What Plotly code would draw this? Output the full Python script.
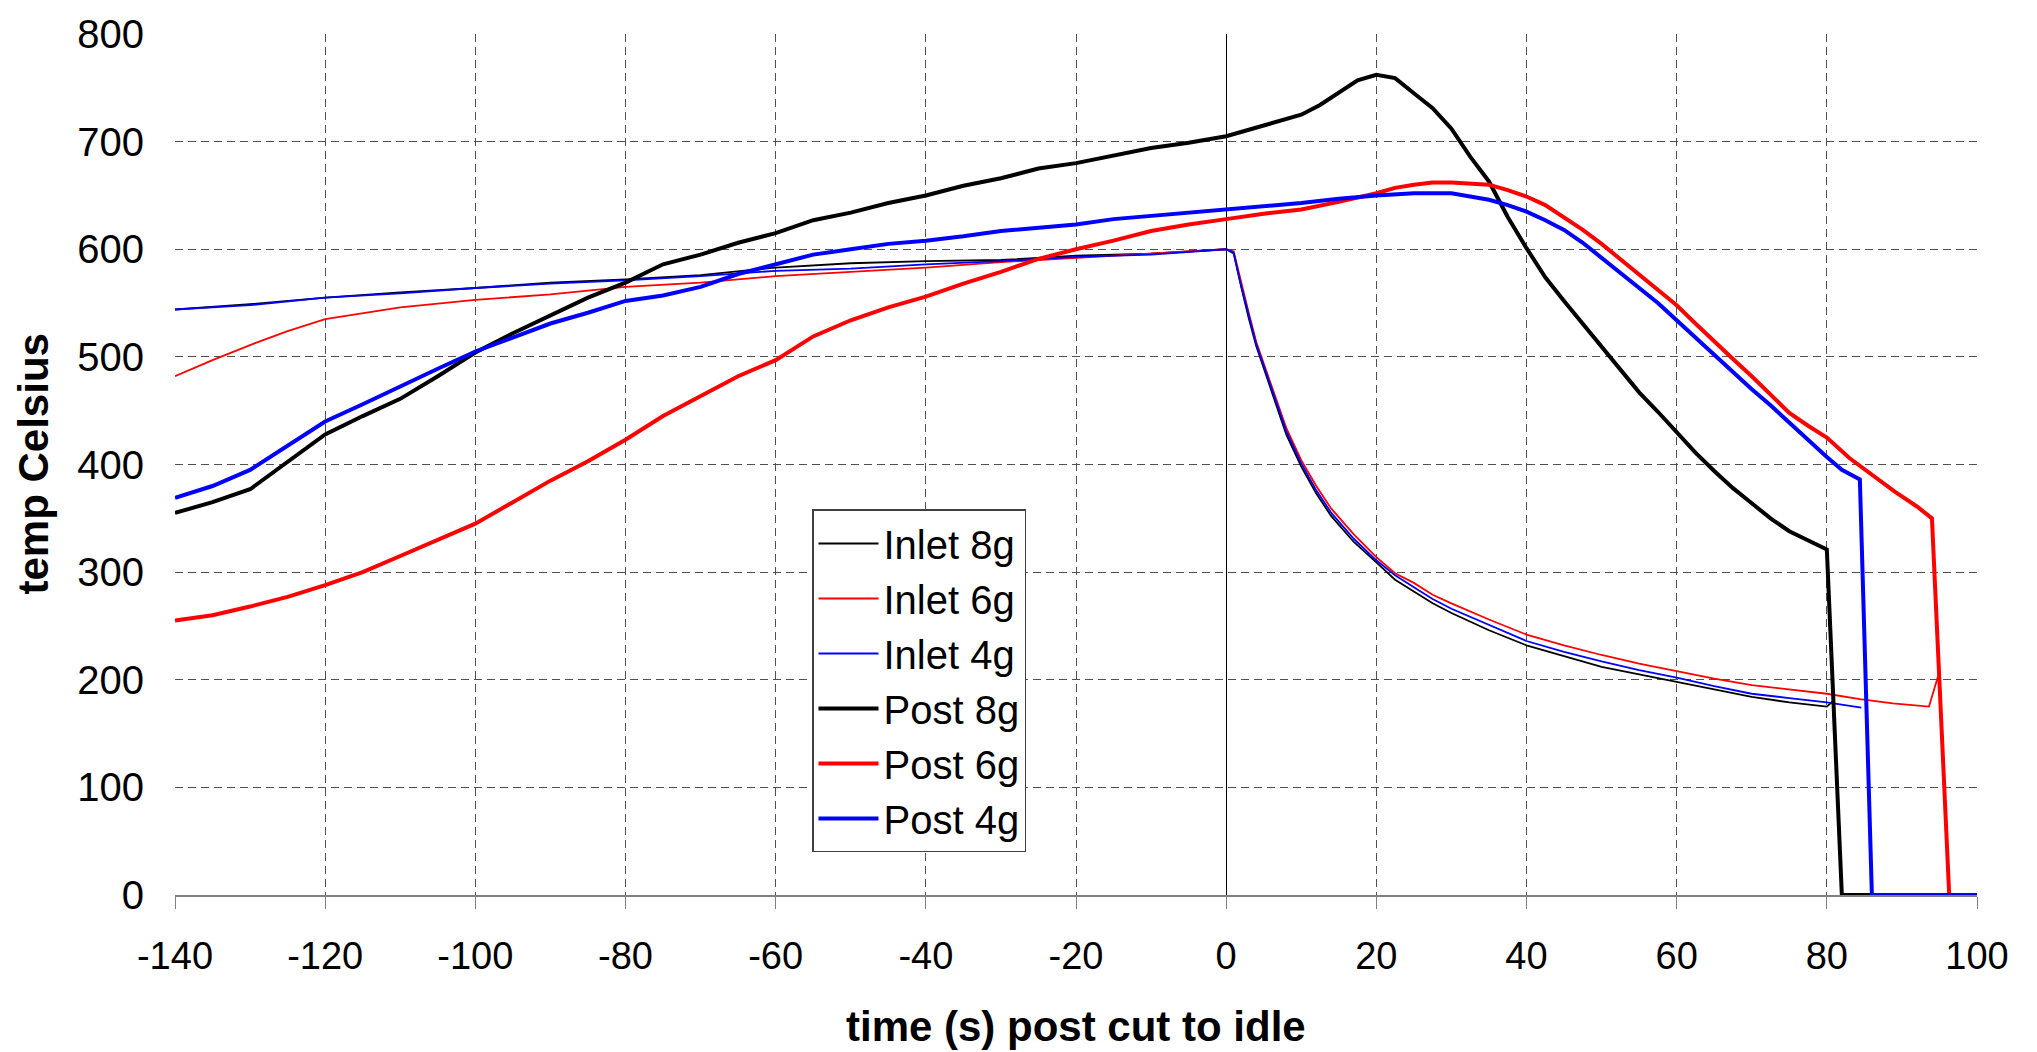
import plotly.graph_objects as go

# ---- data ----
t_post8 = [-140, -135, -130, -125, -120, -115, -110, -105, -100, -95, -90, -85, -80, -75, -70, -65, -60, -55, -50, -45,
           -40, -35, -30, -25, -20, -15, -10, -5, 0, 5, 10, 12.5, 15, 17.5, 20, 22.5, 25, 27.5, 30, 32.5, 35, 37.5,
           40, 42.5, 45, 47.5, 50, 52.5, 55, 57.5, 60, 62.5, 65, 67.5, 70, 72.5, 75, 77.5, 80, 82, 100]
post8 = [355, 365, 377, 403, 428, 445, 461, 482, 504, 522, 539, 555, 569, 586, 595, 606, 615, 627, 634, 643,
         650, 659, 666, 675, 680, 687, 694, 699, 705, 715, 725, 734, 745, 757, 762, 759, 745, 731, 712, 686, 663, 630,
         601, 574, 552, 531, 509, 488, 467, 449, 430, 411, 394, 378, 364, 350, 338, 330, 321, 0, 0]

t_post6 = [-140, -135, -130, -125, -120, -115, -110, -105, -100, -95, -90, -85, -80, -75, -70, -65, -60, -55, -50, -45,
           -40, -35, -30, -25, -20, -15, -10, -5, 0, 5, 10, 15, 20, 22.5, 25, 27.5, 30, 32.5, 35, 37.5,
           40, 42.5, 45, 47.5, 50, 52.5, 55, 57.5, 60, 62.5, 65, 67.5, 70, 72.5, 75, 77.5, 80, 83, 86, 89, 92, 94, 96.3, 100]
post6 = [255, 260, 268, 277, 288, 300, 315, 330, 345, 365, 385, 403, 423, 445, 463, 482, 497, 519, 534, 546,
         556, 568, 579, 591, 600, 608, 617, 623, 628, 633, 637, 644, 652, 657, 660, 662, 662, 661, 660, 655,
         649, 641, 630, 618, 605, 591, 577, 563, 548, 531, 514, 498, 482, 465, 448, 436, 425, 406, 390, 375, 361, 350, 0, 0]

t_post4 = [-140, -135, -130, -125, -120, -115, -110, -105, -100, -95, -90, -85, -80, -75, -70, -65, -60, -55, -50, -45,
           -40, -35, -30, -25, -20, -15, -10, -5, 0, 5, 10, 15, 20, 25, 30, 32.5, 35, 37.5,
           40, 42.5, 45, 47.5, 50, 52.5, 55, 57.5, 60, 62.5, 65, 67.5, 70, 72.5, 75, 77.5, 80, 82, 84.4, 86, 100]
post4 = [369, 380, 395, 418, 440, 456, 473, 489, 505, 518, 531, 541, 552, 557, 565, 577, 586, 595, 600, 605,
         608, 612, 617, 620, 623, 628, 631, 634, 637, 640, 643, 647, 650, 652, 652, 649, 646, 641,
         635, 627, 618, 606, 592, 579, 564, 550, 534, 518, 501, 485, 470, 455, 439, 422, 407, 395, 386, 0, 0]

t_in8 = [-140, -130, -120, -110, -100, -90, -80, -70, -60, -50, -40, -30, -20, -10, 0, 1, 2, 3, 4, 5, 6.5, 8, 10,
         12, 14, 17, 20, 22.5, 25, 27.5, 30, 35, 40, 45, 50, 55, 60, 65, 70, 75, 80, 80.8]
in8 = [544, 549, 555, 560, 564, 569, 572, 576, 583, 587, 589, 590, 594, 596, 600, 596, 565, 536, 510, 490, 458, 428, 398,
       373, 352, 328, 309, 293, 282, 271, 262, 246, 232, 222, 212, 205, 198, 191, 184, 179, 175, 180]

t_in6 = [-140, -135, -130, -125, -120, -110, -100, -90, -80, -70, -60, -50, -40, -30, -20, -10, 0, 1, 2, 3, 4, 5, 6.5, 8,
         10, 12, 14, 17, 20, 22.5, 25, 27.5, 30, 35, 40, 45, 50, 55, 60, 65, 70, 75, 80, 84.4, 88.8, 93.6, 94.8]
in6 = [482, 497, 511, 524, 535, 546, 553, 558, 565, 569, 575, 579, 583, 588, 592, 596, 600, 598, 568, 541, 514, 494, 463,
       434, 404, 380, 359, 335, 314, 299, 290, 279, 271, 256, 242, 232, 223, 215, 208, 201, 195, 191, 187, 182, 178, 175, 203]

t_in4 = [-140, -130, -120, -110, -100, -90, -80, -70, -60, -50, -40, -30, -20, -10, 0, 1, 2, 3, 4, 5, 6.5, 8, 10,
         12, 14, 17, 20, 22.5, 25, 27.5, 30, 35, 40, 45, 50, 55, 60, 65, 70, 75, 80, 84.6]
in4 = [544, 548, 555, 559, 564, 568, 571, 575, 580, 582, 586, 589, 593, 595, 600, 597, 566, 538, 512, 492, 461, 431, 401,
       376, 355, 331, 311, 297, 286, 275, 266, 251, 236, 226, 217, 209, 202, 194, 187, 183, 179, 174]

x_ticks = [-140, -120, -100, -80, -60, -40, -20, 0, 20, 40, 60, 80, 100]
y_ticks = [0, 100, 200, 300, 400, 500, 600, 700, 800]

FONT = "Liberation Sans, Arial, sans-serif"

series = [
    ("Inlet 8g", t_in8, in8, "#000000", 1.8),
    ("Inlet 6g", t_in6, in6, "#FF0000", 1.8),
    ("Inlet 4g", t_in4, in4, "#0000FF", 1.8),
    ("Post 8g", t_post8, post8, "#000000", 4),
    ("Post 6g", t_post6, post6, "#FF0000", 4),
    ("Post 4g", t_post4, post4, "#0000FF", 4),
]

fig = go.Figure()
for name, xs, ys, col, w in series:
    fig.add_trace(go.Scatter(x=xs, y=ys, mode="lines", name=name, legendgroup=name,
                             line=dict(color=col, width=w)))

L, R, T, B = 175, 60, 24, 157
W, H = 2037, 1052
pw, ph = W - L - R, H - T - B

fig.update_layout(
    width=W, height=H,
    margin=dict(l=L, r=R, t=T, b=B),
    paper_bgcolor="white", plot_bgcolor="white",
    font=dict(family=FONT, color="black"),
    showlegend=True,
    legend=dict(x=(812 - L) / pw, y=(H - B - 505) / ph, xanchor="left", yanchor="top",
                bgcolor="white", bordercolor="#404040", borderwidth=1.5,
                font=dict(size=40, family=FONT), tracegroupgap=8, itemwidth=60,
                traceorder="normal"),
    xaxis=dict(range=[-140, 100], tickvals=x_ticks, ticktext=[str(v) for v in x_ticks],
               showgrid=True, gridcolor="#505050", gridwidth=1.3, griddash="8px,5px",
               zeroline=True, zerolinecolor="#000000", zerolinewidth=1.3,
               showline=True, linecolor="#808080", linewidth=2,
               ticks="outside", ticklen=12, tickcolor="#808080", tickwidth=1.3,
               tickfont=dict(size=38, family=FONT), ticklabelstandoff=14),
    yaxis=dict(range=[0, 800], tickvals=y_ticks,
               showgrid=True, gridcolor="#505050", gridwidth=1.3, griddash="8px,5px",
               zeroline=False, showline=False, ticks="",
               tickfont=dict(size=40, family=FONT), ticklabelstandoff=30),
    annotations=[
        dict(text="<b>temp Celsius</b>", x=(33 - L) / pw, y=0.5, xref="paper", yref="paper",
             xanchor="center", yanchor="middle", textangle=-90, showarrow=False,
             font=dict(size=42, family=FONT)),
        dict(text="<b>time (s) post cut to idle</b>", x=0.5, y=(H - B - 1028) / ph, xref="paper", yref="paper",
             xanchor="center", yanchor="middle", showarrow=False,
             font=dict(size=42, family=FONT)),
    ],
)

fig.write_html("out.html")
